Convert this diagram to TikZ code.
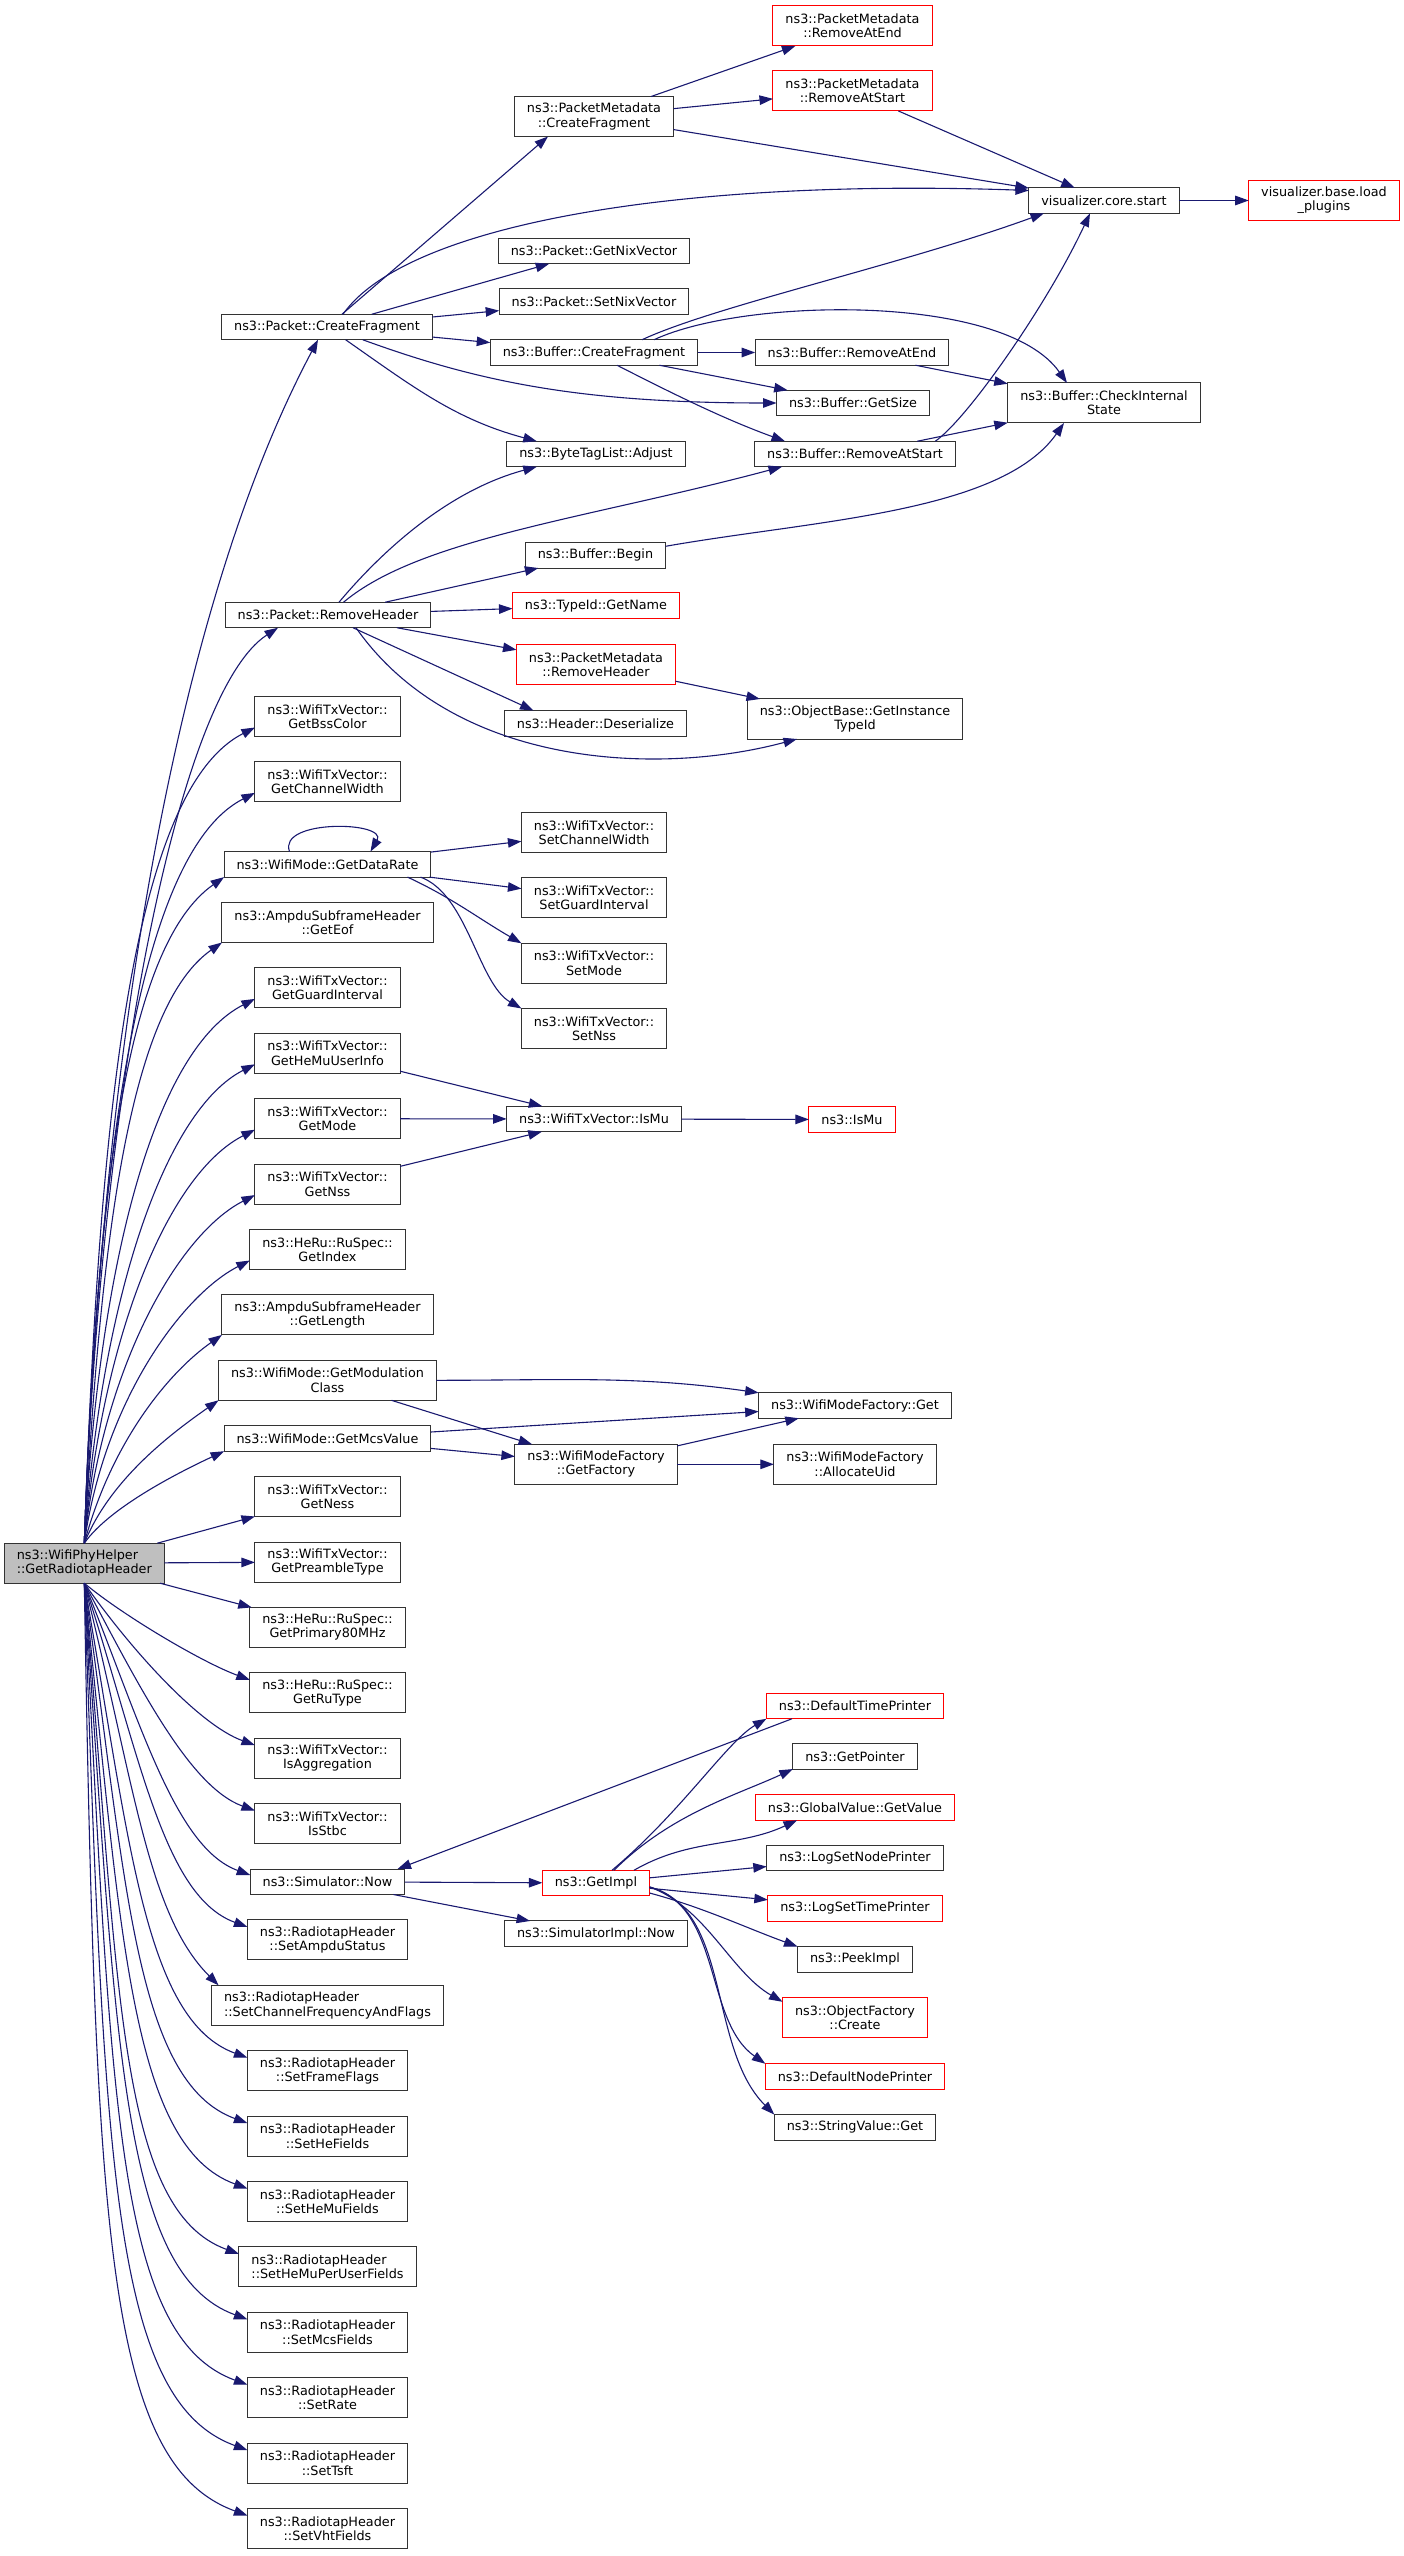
\documentclass[tikz,border=0pt]{standalone}
\usepackage{fontspec}
\setmainfont{DejaVu Sans}
\usetikzlibrary{arrows.meta, positioning, calc}
\definecolor{callblue}{RGB}{25,25,112}
\definecolor{callerfill}{RGB}{191,191,191}
\tikzset{
  fn/.style = {
    draw=black!80,
    line width=0.25pt,
    fill=white,
    font=\fontsize{3.2}{3.575}\selectfont,
    align=center,
    inner xsep=3.125pt,
    inner ysep=0pt,
    outer sep=0pt,
  },
  oneLine/.style = {fn, minimum height=6.375pt},
  twoLine/.style = {fn, minimum height=10pt},
  extern/.style = {draw=red},
  caller/.style = {twoLine, fill=callerfill, align=left},
  call/.style = {
    -{Triangle[length=3.375pt, width=2.375pt]},
    draw=callblue,
    line width=0.275pt,
  },
}

\begin{document}
\begin{tikzpicture}[x=0.25pt, y=0.25pt, node distance=6.35pt]
\useasboundingbox (0,0) rectangle (1403,-2556);

% the function itself
\node(Root)[caller] at (84.3,-1563.2) {ns3::WifiPhyHelper\\::GetRadiotapHeader};

% first level
\node(PacketCreateFragment)[oneLine] at (327,-327) {ns3::Packet::CreateFragment};
\node(PacketRemoveHeader)[oneLine] at (328,-615) {ns3::Packet::RemoveHeader};
\node(GetBssColor)[twoLine] at (327.5,-716.5) {ns3::WifiTxVector::\\GetBssColor};
\node(GetChannelWidth)[twoLine, below=of GetBssColor] {ns3::WifiTxVector::\\GetChannelWidth};
\node(GetDataRate)[oneLine, below=12.425pt of GetChannelWidth] {ns3::WifiMode::GetDataRate};
\node(GetEof)[twoLine, below=of GetDataRate] {ns3::AmpduSubframeHeader\\::GetEof};
\node(GetGuardInterval)[twoLine, below=of GetEof] {ns3::WifiTxVector::\\GetGuardInterval};
\node(GetHeMuUserInfo)[twoLine, below=of GetGuardInterval] {ns3::WifiTxVector::\\GetHeMuUserInfo};
\node(GetMode)[twoLine, below=of GetHeMuUserInfo] {ns3::WifiTxVector::\\GetMode};
\node(GetNss)[twoLine, below=of GetMode] {ns3::WifiTxVector::\\GetNss};
\node(GetIndex)[twoLine, below=of GetNss] {ns3::HeRu::RuSpec::\\GetIndex};
\node(GetLength)[twoLine, below=of GetIndex] {ns3::AmpduSubframeHeader\\::GetLength};
\node(GetModulationClass)[twoLine, below=of GetLength] {ns3::WifiMode::GetModulation\\Class};
\node(GetMcsValue)[oneLine, below=of GetModulationClass] {ns3::WifiMode::GetMcsValue};
\node(GetNess)[twoLine, below=of GetMcsValue] {ns3::WifiTxVector::\\GetNess};
\node(GetPreambleType)[twoLine, below=of GetNess] {ns3::WifiTxVector::\\GetPreambleType};
\node(GetPrimary80MHz)[twoLine, below=of GetPreambleType] {ns3::HeRu::RuSpec::\\GetPrimary80MHz};
\node(GetRuType)[twoLine, below=of GetPrimary80MHz] {ns3::HeRu::RuSpec::\\GetRuType};
\node(IsAggregation)[twoLine, below=of GetRuType] {ns3::WifiTxVector::\\IsAggregation};
\node(IsStbc)[twoLine, below=of IsAggregation] {ns3::WifiTxVector::\\IsStbc};
\node(SimulatorNow)[oneLine, below=of IsStbc] {ns3::Simulator::Now};
\node(SetAmpduStatus)[twoLine, below=of SimulatorNow] {ns3::RadiotapHeader\\::SetAmpduStatus};
\node(SetChannelFrequencyAndFlags)[twoLine, align=left, below=of SetAmpduStatus] {ns3::RadiotapHeader\\::SetChannelFrequencyAndFlags};
\node(SetFrameFlags)[twoLine, below=of SetChannelFrequencyAndFlags] {ns3::RadiotapHeader\\::SetFrameFlags};
\node(SetHeFields)[twoLine, below=of SetFrameFlags] {ns3::RadiotapHeader\\::SetHeFields};
\node(SetHeMuFields)[twoLine, below=of SetHeFields] {ns3::RadiotapHeader\\::SetHeMuFields};
\node(SetHeMuPerUserFields)[twoLine, align=left, below=of SetHeMuFields] {ns3::RadiotapHeader\\::SetHeMuPerUserFields};
\node(SetMcsFields)[twoLine, below=of SetHeMuPerUserFields] {ns3::RadiotapHeader\\::SetMcsFields};
\node(SetRate)[twoLine, below=of SetMcsFields] {ns3::RadiotapHeader\\::SetRate};
\node(SetTsft)[twoLine, below=of SetRate] {ns3::RadiotapHeader\\::SetTsft};
\node(SetVhtFields)[twoLine, below=of SetTsft] {ns3::RadiotapHeader\\::SetVhtFields};

% second level
\node(MetaCreateFragment)[twoLine] at (594,-116.5) {ns3::PacketMetadata\\::CreateFragment};
\node(GetNixVector)[oneLine] at (594,-251) {ns3::Packet::GetNixVector};
\node(SetNixVector)[oneLine] at (594,-301.7) {ns3::Packet::SetNixVector};
\node(BufferCreateFragment)[oneLine] at (594,-352.5) {ns3::Buffer::CreateFragment};
\node(TagListAdjust)[oneLine] at (596,-454) {ns3::ByteTagList::Adjust};
\node(BufferBegin)[oneLine] at (595.5,-555.3) {ns3::Buffer::Begin};
\node(TypeIdGetName)[oneLine, extern] at (596,-605.7) {ns3::TypeId::GetName};
\node(MetaRemoveHeader)[twoLine, extern] at (596,-664.5) {ns3::PacketMetadata\\::RemoveHeader};
\node(HeaderDeserialize)[oneLine] at (595.5,-723.3) {ns3::Header::Deserialize};
\node(SetChannelWidth)[twoLine] at (594,-832.7) {ns3::WifiTxVector::\\SetChannelWidth};
\node(SetGuardInterval)[twoLine] at (594,-897.7) {ns3::WifiTxVector::\\SetGuardInterval};
\node(SetMode)[twoLine] at (594,-963.3) {ns3::WifiTxVector::\\SetMode};
\node(SetNss)[twoLine] at (594,-1028.5) {ns3::WifiTxVector::\\SetNss};
\node(TxVectorIsMu)[oneLine] at (594,-1119) {ns3::WifiTxVector::IsMu};
\node(GetFactory)[twoLine] at (596,-1464.3) {ns3::WifiModeFactory\\::GetFactory};
\node(GetImpl)[oneLine, extern] at (596,-1883) {ns3::GetImpl};
\node(ImplNow)[oneLine] at (596,-1933.7) {ns3::SimulatorImpl::Now};

% third level
\node(MetaRemoveAtEnd)[twoLine, extern] at (852.5,-26) {ns3::PacketMetadata\\::RemoveAtEnd};
\node(MetaRemoveAtStart)[twoLine, extern] at (852.5,-91) {ns3::PacketMetadata\\::RemoveAtStart};
\node(BufferRemoveAtEnd)[oneLine] at (852,-352.5) {ns3::Buffer::RemoveAtEnd};
\node(BufferGetSize)[oneLine] at (853,-403) {ns3::Buffer::GetSize};
\node(BufferRemoveAtStart)[oneLine] at (855,-454) {ns3::Buffer::RemoveAtStart};
\node(GetInstanceTypeId)[twoLine] at (855,-719) {ns3::ObjectBase::GetInstance\\TypeId};
\node(IsMu)[oneLine, extern] at (852,-1119.5) {ns3::IsMu};
\node(FactoryGet)[oneLine] at (855,-1405.5) {ns3::WifiModeFactory::Get};
\node(AllocateUid)[twoLine] at (855,-1464.3) {ns3::WifiModeFactory\\::AllocateUid};
\node(DefaultTimePrinter)[oneLine, extern] at (855,-1706) {ns3::DefaultTimePrinter};
\node(GetPointer)[oneLine] at (855,-1756.3) {ns3::GetPointer};
\node(GlobalGetValue)[oneLine, extern] at (855,-1807.5) {ns3::GlobalValue::GetValue};
\node(LogSetNodePrinter)[oneLine] at (855,-1858) {ns3::LogSetNodePrinter};
\node(LogSetTimePrinter)[oneLine, extern] at (855,-1908.3) {ns3::LogSetTimePrinter};
\node(PeekImpl)[oneLine] at (855,-1959.3) {ns3::PeekImpl};
\node(FactoryCreate)[twoLine, extern] at (855,-2017.8) {ns3::ObjectFactory\\::Create};
\node(DefaultNodePrinter)[oneLine, extern] at (855,-2076.5) {ns3::DefaultNodePrinter};
\node(StringValueGet)[oneLine] at (855,-2127.3) {ns3::StringValue::Get};

% last levels
\node(CoreStart)[oneLine] at (1104,-200.5) {visualizer.core.start};
\node(CheckInternalState)[twoLine] at (1104,-403) {ns3::Buffer::CheckInternal\\State};
\node(LoadPlugins)[twoLine, extern] at (1324,-200.5) {visualizer.base.load\\\_plugins};

% calls of the function, upwards
\draw[call] (Root.north) .. controls +(88:500) and +(242:300) .. ($(PacketCreateFragment.south)+(-9,0)$);
\draw[call] (Root.north) .. controls +(88:450) and +(213:120) .. ($(PacketRemoveHeader.south)+(-50,0)$);
\draw[call] (Root.north) .. controls +(88:420) and +(207:140) .. ($(GetBssColor.south west)+(0,9)$);
\draw[call] (Root.north) .. controls +(88:390) and +(207:130) .. ($(GetChannelWidth.south west)+(0,9)$);
\draw[call] (Root.north) .. controls +(88:350) and +(215:120) .. (GetDataRate.south west);
\draw[call] (Root.north) .. controls +(87:320) and +(215:110) .. (GetEof.south west);
\draw[call] (Root.north) .. controls +(87:290) and +(207:110) .. ($(GetGuardInterval.south west)+(0,9)$);
\draw[call] (Root.north) .. controls +(86:250) and +(207:100) .. ($(GetHeMuUserInfo.south west)+(0,9)$);
\draw[call] (Root.north) .. controls +(85:215) and +(207:95) .. ($(GetMode.south west)+(0,9)$);
\draw[call] (Root.north) .. controls +(84:180) and +(207:85) .. ($(GetNss.south west)+(0,9)$);
\draw[call] (Root.north) .. controls +(82:145) and +(207:75) .. ($(GetIndex.south west)+(0,9)$);
\draw[call] (Root.north) .. controls +(75:105) and +(215:65) .. (GetLength.south west);
\draw[call] (Root.north) .. controls +(68:70) and +(215:55) .. (GetModulationClass.south west);
\draw[call] (Root.north) .. controls +(55:45) and +(205:45) .. (GetMcsValue.south west);
\draw[call] (Root) -- (GetNess);
\draw[call] (Root) -- (GetPreambleType);
\draw[call] (Root) -- (GetPrimary80MHz);

% calls of the function, downwards
\draw[call] (Root.south) .. controls +(-40:50) and +(160:50) .. ($(GetRuType.north west)+(0,-7)$);
\draw[call] (Root.south) .. controls +(-55:80) and +(160:60) .. ($(IsAggregation.north west)+(0,-7)$);
\draw[call] (Root.south) .. controls +(-62:115) and +(160:70) .. ($(IsStbc.north west)+(0,-7)$);
\draw[call] (Root.south) .. controls +(-68:150) and +(160:80) .. ($(SimulatorNow.north west)+(0,-6)$);
\draw[call] (Root.south) .. controls +(-72:180) and +(160:90) .. ($(SetAmpduStatus.north west)+(0,-7)$);
\draw[call] (Root.south) .. controls +(-76:210) and +(135:100) .. ($(SetChannelFrequencyAndFlags.north west)+(7,0)$);
\draw[call] (Root.south) .. controls +(-80:260) and +(160:110) .. ($(SetFrameFlags.north west)+(0,-7)$);
\draw[call] (Root.south) .. controls +(-82:300) and +(160:120) .. ($(SetHeFields.north west)+(0,-7)$);
\draw[call] (Root.south) .. controls +(-84:350) and +(160:125) .. ($(SetHeMuFields.north west)+(0,-7)$);
\draw[call] (Root.south) .. controls +(-85:400) and +(160:130) .. ($(SetHeMuPerUserFields.north west)+(0,-7)$);
\draw[call] (Root.south) .. controls +(-86:460) and +(160:135) .. ($(SetMcsFields.north west)+(0,-7)$);
\draw[call] (Root.south) .. controls +(-87:520) and +(160:140) .. ($(SetRate.north west)+(0,-7)$);
\draw[call] (Root.south) .. controls +(-88:580) and +(160:145) .. ($(SetTsft.north west)+(0,-7)$);
\draw[call] (Root.south) .. controls +(-89:650) and +(160:150) .. ($(SetVhtFields.north west)+(0,-7)$);

% Packet::CreateFragment
\draw[call] ($(PacketCreateFragment.north)+(15,0)$) -- ($(MetaCreateFragment.south)+(-46,0)$);
\draw[call] ($(PacketCreateFragment.north)+(16,0)$) .. controls +(55:110) and +(178:350) .. ($(CoreStart.west)+(0,10)$);
\draw[call] (PacketCreateFragment) -- (GetNixVector);
\draw[call] (PacketCreateFragment) -- (SetNixVector);
\draw[call] (PacketCreateFragment) -- (BufferCreateFragment);
\draw[call] ($(PacketCreateFragment.south)+(35.7,0)$) .. controls +(-20:120) and +(180:200) .. (BufferGetSize.west);
\draw[call] ($(PacketCreateFragment.south)+(18.6,0)$) .. controls +(-35:84) and +(165:84) .. ($(TagListAdjust.north west)+(30,0)$);

\draw[call] (MetaCreateFragment) -- (MetaRemoveAtEnd);
\draw[call] (MetaCreateFragment) -- (MetaRemoveAtStart);
\draw[call] (MetaCreateFragment) -- (CoreStart);
\draw[call] (MetaRemoveAtStart) -- (CoreStart);
\draw[call] (CoreStart) -- (LoadPlugins);

% Buffer
\draw[call] ($(BufferCreateFragment.north)+(48,0)$) .. controls +(25:80) and +(-160:150) .. ($(CoreStart.south)+(-60,0)$);
\draw[call] ($(BufferCreateFragment.north)+(60,0)$) .. controls +(25:100) and +(125:110) .. ($(CheckInternalState.north)+(-37,0)$);
\draw[call] (BufferCreateFragment) -- (BufferRemoveAtEnd);
\draw[call] (BufferCreateFragment) -- (BufferGetSize);
\draw[call] ($(BufferCreateFragment.south)+(23,0)$) .. controls +(-27:65) and +(160:65) .. ($(BufferRemoveAtStart.north)+(-70,0)$);
\draw[call] (BufferRemoveAtEnd) -- (CheckInternalState);
\draw[call] ($(BufferRemoveAtStart.north east)+(-20,0)$) .. controls +(35:40) and +(-115:100) .. ($(CoreStart.south)+(-14,0)$);
\draw[call] (BufferRemoveAtStart) -- (CheckInternalState);
\draw[call] ($(BufferBegin.east)+(0,9)$) .. controls +(10:150) and +(-125:110) .. ($(CheckInternalState.south)+(-40,0)$);

% Packet::RemoveHeader
\draw[call] ($(PacketRemoveHeader.north)+(11,0)$) .. controls +(50:70) and +(-165:90) .. ($(TagListAdjust.south west)+(30,0)$);
\draw[call] ($(PacketRemoveHeader.north)+(15.5,0)$) .. controls +(40:100) and +(-165:200) .. ($(BufferRemoveAtStart.south)+(-73,0)$);
\draw[call] (PacketRemoveHeader) -- (BufferBegin);
\draw[call] (PacketRemoveHeader) -- (TypeIdGetName);
\draw[call] (PacketRemoveHeader) -- (MetaRemoveHeader);
\draw[call] ($(PacketRemoveHeader.south)+(25,0)$) -- ($(HeaderDeserialize.north)+(-62,0)$);
\draw[call] ($(PacketRemoveHeader.south)+(28,0)$) .. controls +(-55:170) and +(-165:145) .. ($(GetInstanceTypeId.south)+(-58,0)$);
\draw[call] (MetaRemoveHeader) -- (GetInstanceTypeId);

% WifiMode and WifiTxVector
\draw[call] ($(GetDataRate.north)+(-38,0)$) .. controls +(110:35) and +(60:35) .. ($(GetDataRate.north)+(43,0)$);
\draw[call] (GetDataRate) -- (SetChannelWidth);
\draw[call] (GetDataRate) -- (SetGuardInterval);
\draw[call] ($(GetDataRate.south)+(80,0)$) .. controls +(-25:50) and +(150:50) .. (SetMode.north west);
\draw[call] ($(GetDataRate.south)+(93,0)$) .. controls +(-20:50) and +(150:50) .. (SetNss.north west);
\draw[call] (GetHeMuUserInfo) -- (TxVectorIsMu);
\draw[call] (GetMode) -- (TxVectorIsMu);
\draw[call] (GetNss) -- (TxVectorIsMu);
\draw[call] (TxVectorIsMu) -- (IsMu);
\draw[call] (GetModulationClass.east) .. controls +(0:125) and +(172:125) .. (FactoryGet.north west);
\draw[call] (GetModulationClass) -- (GetFactory);
\draw[call] (GetMcsValue) -- (FactoryGet);
\draw[call] (GetMcsValue) -- (GetFactory);
\draw[call] (GetFactory) -- (FactoryGet);
\draw[call] (GetFactory) -- (AllocateUid);

% Simulator
\draw[call] (SimulatorNow) -- (GetImpl);
\draw[call] (SimulatorNow) -- (ImplNow);
\draw[call] ($(DefaultTimePrinter.south)+(-63,0)$) -- ($(SimulatorNow.north)+(70,0)$);
\draw[call] ($(GetImpl.north)+(16,0)$) .. controls +(40:90) and +(-150:45) .. (DefaultTimePrinter.south west);
\draw[call] ($(GetImpl.north)+(18,0)$) .. controls +(45:80) and +(-155:60) .. (GetPointer.south west);
\draw[call] ($(GetImpl.north)+(38,0)$) .. controls +(30:65) and +(-155:65) .. ($(GlobalGetValue.south)+(-58,0)$);
\draw[call] (GetImpl) -- (LogSetNodePrinter);
\draw[call] (GetImpl) -- (LogSetTimePrinter);
\draw[call] ($(GetImpl.east)+(0,-10)$) .. controls +(-15:55) and +(160:55) .. (PeekImpl.north west);
\draw[call] ($(GetImpl.east)+(0,-4)$) .. controls +(-20:60) and +(150:60) .. ($(FactoryCreate.north west)+(0,-4)$);
\draw[call] ($(GetImpl.east)+(0,-4)$) .. controls +(-15:75) and +(145:75) .. (DefaultNodePrinter.north west);
\draw[call] ($(GetImpl.east)+(0,-4)$) .. controls +(-15:85) and +(135:95) .. (StringValueGet.north west);

\end{tikzpicture}
\end{document}
